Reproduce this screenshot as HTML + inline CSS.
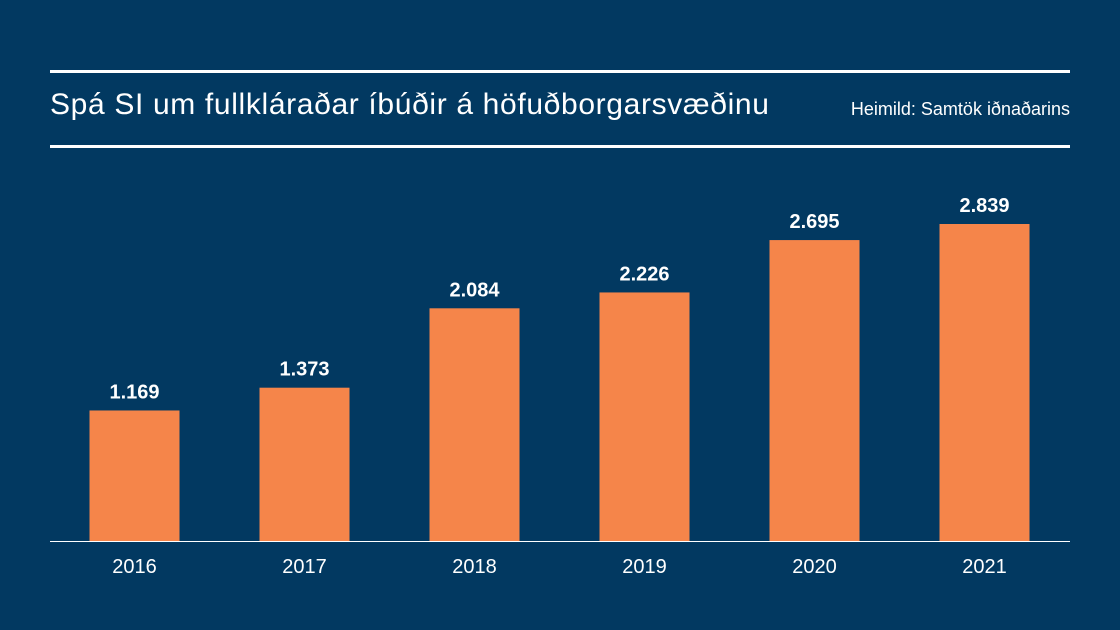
<!DOCTYPE html>
<html><head><meta charset="utf-8"><style>
body{margin:0;background:#023961;}
#c{position:relative;width:1120px;height:630px;background:#023961;font-family:"Liberation Sans",sans-serif;color:#fff;overflow:hidden}
.rule{position:absolute;left:50px;width:1020px;height:3px;background:#fff}
</style></head><body>
<div id="c">
<div class="rule" style="top:70px"></div>
<div style="position:absolute;left:50px;top:88px;font-size:30px;letter-spacing:0.65px">Spá SI um fullkláraðar íbúðir á höfuðborgarsvæðinu</div>
<div style="position:absolute;right:50px;top:99px;font-size:18px">Heimild: Samtök iðnaðarins</div>
<div class="rule" style="top:145px"></div>
<svg id="s" width="1120" height="630" style="position:absolute;left:0;top:0"></svg>
</div>
<script>
const categories=["2016","2017","2018","2019","2020","2021"];
const values=[1169,1373,2084,2226,2695,2839];
const valueLabels=["1.169","1.373","2.084","2.226","2.695","2.839"];
const NS="http://www.w3.org/2000/svg";
const svg=document.getElementById("s");
const baseY=541, pxPerUnit=317/2839;
function y(v){return baseY-v*pxPerUnit;}
function xCenter(i){return 134.5+170*i;}
const bw=90;
function mk(t,a){const e=document.createElementNS(NS,t);for(const k in a)e.setAttribute(k,a[k]);svg.appendChild(e);return e;}
values.forEach((v,i)=>{
  const r=mk("rect",{x:xCenter(i)-bw/2,y:y(v),width:bw,height:baseY-y(v),fill:"#f5854a"});
  
  
  const t=mk("text",{x:xCenter(i),y:y(v)-12,"text-anchor":"middle",fill:"#fff","font-size":"20","font-weight":"bold","font-family":"Liberation Sans, sans-serif"});
  t.textContent=valueLabels[i];
  
  
  const c=mk("text",{x:xCenter(i),y:573,"text-anchor":"middle",fill:"#fff","font-size":"20","font-family":"Liberation Sans, sans-serif"});
  c.textContent=categories[i];
  
  
});
const ax=mk("line",{x1:50,x2:1070,y1:baseY+0.5,y2:baseY+0.5,stroke:"#fff","stroke-width":1});


</script>
</body></html>
